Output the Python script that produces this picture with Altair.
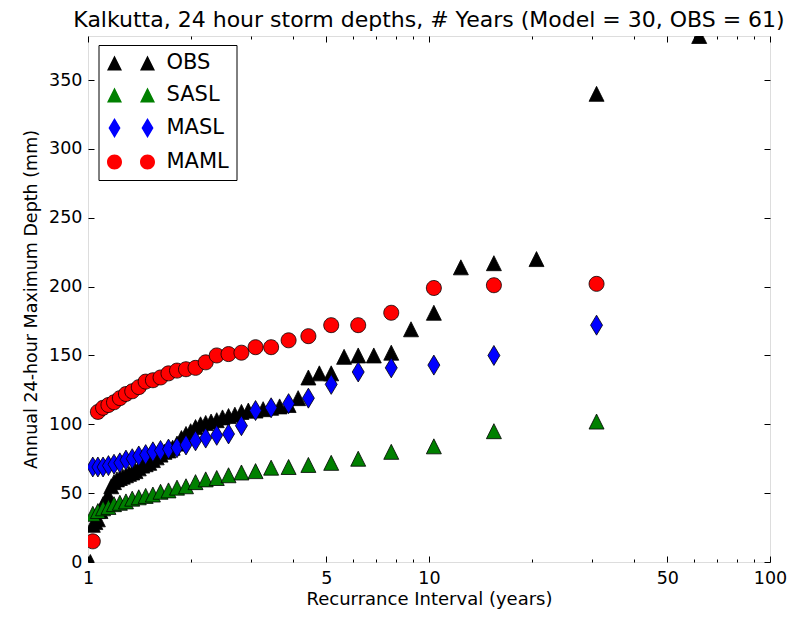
import altair as alt
import pandas as pd

# ---------------- data ----------------
series_names = ["OBS", "SASL", "MASL", "MAML"]
series_colors = ["#000000", "#008000", "#0000ff", "#ff0000"]

# observed record: 61 years, recurrence interval (years) and annual max depth (mm)
obs_interval = [1.016, 1.033, 1.051, 1.069, 1.088, 1.107, 1.127, 1.148, 1.170, 1.192,
                1.216, 1.240, 1.265, 1.292, 1.319, 1.348, 1.378, 1.409, 1.442, 1.476,
                1.512, 1.550, 1.590, 1.632, 1.676, 1.722, 1.771, 1.824, 1.879, 1.938,
                2.000, 2.067, 2.138, 2.214, 2.296, 2.385, 2.480, 2.583, 2.696, 2.818,
                2.952, 3.100, 3.263, 3.444, 3.647, 3.875, 4.133, 4.429, 4.769, 5.167,
                5.636, 6.200, 6.889, 7.750, 8.857, 10.333, 12.400, 15.500, 20.667, 31.000,
                62.000]
obs_depth = [0, 27, 29, 31, 37, 42, 45, 48, 55, 58,
             60, 61, 62, 63, 64, 65, 66, 68, 70, 71,
             72, 74, 76, 78, 80, 81, 83, 86, 90, 93,
             95, 98, 100, 101, 102, 103, 105, 106, 107, 109,
             110, 110, 111, 112, 113, 114, 119, 134, 137, 137,
             149, 150, 150, 152, 169, 181, 214, 217, 220, 340,
             382]

# model runs: 30 years
model_interval = [1.033, 1.069, 1.107, 1.148, 1.192, 1.240, 1.292, 1.348, 1.409, 1.476,
                  1.550, 1.632, 1.722, 1.824, 1.938, 2.067, 2.214, 2.385, 2.583, 2.818,
                  3.100, 3.444, 3.875, 4.429, 5.167, 6.200, 7.750, 10.333, 15.500, 31.000]
sasl_depth = [35, 37, 39, 40, 42, 43, 44, 46, 47, 48,
              49, 51, 52, 54, 55, 58, 60, 61, 63, 65,
              66, 68.5, 69, 70.5, 72, 75, 80, 84, 95, 102]
masl_depth = [69, 69, 69, 70, 71, 72, 74, 75, 77, 78,
              80, 81, 82, 83, 85, 88, 90, 92, 93, 99,
              110, 112, 115, 119, 129, 138, 141, 143, 150, 172]
maml_depth = [15, 109, 112, 114, 116, 119, 122, 124, 127, 131,
              132, 134, 137, 139, 140, 141, 145, 150, 151, 152,
              156, 156, 161, 164, 172, 172, 181, 199, 201, 202]

x_major = [1, 5, 10, 50, 100]
x_minor = [2, 3, 4, 6, 7, 8, 9, 20, 30, 40, 60, 70, 80, 90]
y_ticks = [0, 50, 100, 150, 200, 250, 300, 350]
x_domain = [1, 100]
y_domain = [0, 382]

title_text = "Kalkutta, 24 hour storm depths, # Years (Model = 30, OBS = 61)"
x_title = "Recurrance Interval (years)"
y_title = "Annual 24-hour Maximum Depth (mm)"

# ---------------- table ----------------
rows = []
for t, d in zip(obs_interval, obs_depth):
    rows.append({"series": "OBS", "interval": t, "depth": d})
for name, vals in (("SASL", sasl_depth), ("MASL", masl_depth), ("MAML", maml_depth)):
    for t, d in zip(model_interval, vals):
        rows.append({"series": name, "interval": t, "depth": d})
df = pd.DataFrame(rows)

# ---------------- styling ----------------
FONT = "DejaVu Sans"
TRI = "M0,-1L1,1L-1,1Z"
DIA = "M0,-1.333L0.8,0L0,1.333L-0.8,0Z"
CIR = "M1,0A1,1 0 1,1 -1,0A1,1 0 1,1 1,0Z"
TRI2 = "M-2.2,-1L-1.2,1L-3.2,1Z M2.2,-1L3.2,1L1.2,1Z"
DIA2 = "M-2.2,-1.333L-1.4,0L-2.2,1.333L-3,0Z M2.2,-1.333L3,0L2.2,1.333L1.4,0Z"
CIR2 = "M-1.2,0A1,1 0 1,1 -3.2,0A1,1 0 1,1 -1.2,0Z M3.2,0A1,1 0 1,1 1.2,0A1,1 0 1,1 3.2,0Z"

xscale = alt.Scale(type="log", domain=x_domain, nice=False)
yscale = alt.Scale(domain=y_domain, nice=False, zero=False)

MARK = dict(filled=True, stroke="black", strokeWidth=0.8, size=225, opacity=1, clip=True)


def tick_axis(orient, values, length):
    return alt.Axis(orient=orient, values=values, offset=-length, tickSize=length,
                    ticks=True, labels=False, domain=False, grid=False, title=None,
                    tickColor="black", tickWidth=1)


base = alt.Chart(df)
empty = base.transform_filter("false")

points = base.mark_point(**MARK).encode(
    x=alt.X("interval:Q", scale=xscale,
            axis=alt.Axis(orient="bottom", values=x_major, format="d", ticks=False,
                          domain=False, grid=False, labelFont=FONT, labelFontSize=17.5,
                          labelColor="black", labelPadding=7, labelFlush=False,
                          labelOverlap=False, title=x_title,
                          titleFont=FONT, titleFontSize=18, titleFontWeight="normal",
                          titleColor="black", titlePadding=4)),
    y=alt.Y("depth:Q", scale=yscale,
            axis=alt.Axis(orient="left", values=y_ticks, format="d", ticks=False,
                          domain=False, grid=False, labelFont=FONT, labelFontSize=17.5,
                          labelColor="black", labelPadding=6, labelFlush=False,
                          labelOverlap=False, title=y_title,
                          titleFont=FONT, titleFontSize=17.5, titleFontWeight="normal",
                          titleColor="black", titlePadding=8)),
    shape=alt.Shape("series:N", scale=alt.Scale(domain=series_names, range=[TRI, TRI, DIA, CIR]),
                    legend=None),
    fill=alt.Fill("series:N", scale=alt.Scale(domain=series_names, range=series_colors),
                  legend=None),
)

legend_def = dict(orient="none", legendX=10.5, legendY=9, title=None,
                  strokeColor="black", fillColor="white", padding=7.5, cornerRadius=0,
                  labelFont=FONT, labelFontSize=21, labelColor="black",
                  symbolSize=225, symbolStrokeColor="black", symbolStrokeWidth=0.8,
                  symbolOffset=14.5, labelOffset=25, rowPadding=10)

legend_layer = empty.mark_point(**MARK).encode(
    x=alt.X("interval:Q", scale=xscale, axis=tick_axis("bottom", x_major, 6)),
    y=alt.Y("depth:Q", scale=yscale, axis=tick_axis("left", y_ticks, 6)),
    shape=alt.Shape("series:N", scale=alt.Scale(domain=series_names, range=[TRI2, TRI2, DIA2, CIR2]),
                    legend=alt.Legend(**legend_def)),
    fill=alt.Fill("series:N", scale=alt.Scale(domain=series_names, range=series_colors),
                  legend=alt.Legend(**legend_def)),
)

ax3 = empty.mark_point(**MARK).encode(
    x=alt.X("interval:Q", scale=xscale, axis=tick_axis("bottom", x_minor, 3)),
    y=alt.Y("depth:Q", scale=yscale, axis=tick_axis("right", y_ticks, 6)),
)
ax4 = empty.mark_point(**MARK).encode(
    x=alt.X("interval:Q", scale=xscale, axis=tick_axis("top", x_major, 6)),
    y=alt.Y("depth:Q", scale=yscale, axis=None),
)
ax5 = empty.mark_point(**MARK).encode(
    x=alt.X("interval:Q", scale=xscale, axis=tick_axis("top", x_minor, 3)),
    y=alt.Y("depth:Q", scale=yscale, axis=None),
)

chart = alt.layer(points, legend_layer, ax3, ax4, ax5).resolve_axis(
    x="independent", y="independent"
).resolve_scale(
    shape="independent", fill="independent"
).properties(
    width=682,
    height=526,
    title=alt.TitleParams(title_text, font=FONT, fontSize=22, fontWeight="normal",
                          color="black", anchor="middle", offset=4),
    autosize=alt.AutoSizeParams(type="none"),
    padding={"left": 80, "top": 28, "right": 20, "bottom": 47},
).configure_view(
    stroke="black", strokeWidth=1
).configure(
    background="white"
)

chart.save("out.html", embed_options={"renderer": "svg", "actions": False})
